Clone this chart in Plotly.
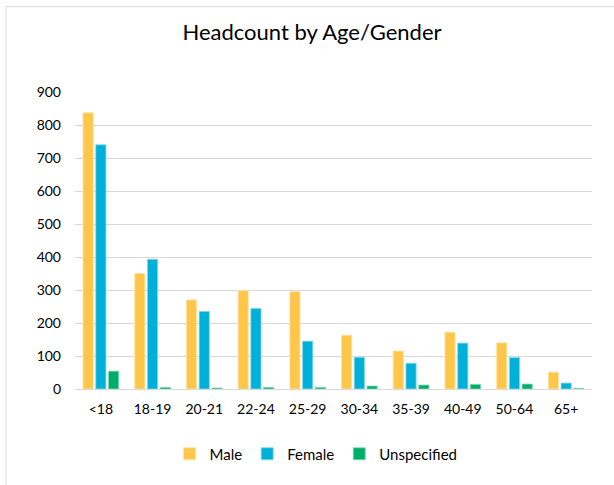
import plotly.graph_objects as go

# Headcount by age band, split by gender
age_bands = ["<18", "18-19", "20-21", "22-24", "25-29", "30-34", "35-39", "40-49", "50-64", "65+"]
male = [837, 350, 270, 298, 295, 163, 115, 172, 140, 51]
female = [740, 393, 235, 244, 145, 96, 78, 139, 95, 18]
unspecified = [54, 5, 3, 5, 5, 9, 12, 14, 15, 2]
y_ticks = [0, 100, 200, 300, 400, 500, 600, 700, 800, 900]

series = [
    ("Male", male, "#FFC749", "#FFE3A4"),
    ("Female", female, "#00B0D8", "#80D8EC"),
    ("Unspecified", unspecified, "#00AE6B", "#80D7B5"),
]

font_family = "Lato, 'Open Sans', sans-serif"

fig = go.Figure()
for name, values, color, edge in series:
    fig.add_trace(go.Bar(
        x=age_bands,
        y=values,
        name=name,
        marker=dict(color=color, line=dict(color=edge, width=0.8)),
    ))

fig.update_layout(
    width=614,
    height=485,
    paper_bgcolor="white",
    plot_bgcolor="white",
    margin=dict(l=75, r=22, t=92, b=96),
    barmode="group",
    bargap=0.26,
    bargroupgap=0.2,
    font=dict(family=font_family, size=14, color="#404040"),
    title=dict(
        text="Headcount by Age/Gender",
        x=312 / 614,
        xref="container",
        xanchor="center",
        y=1 - 32 / 485,
        yanchor="middle",
        font=dict(family=font_family, size=22, color="#000000"),
    ),
    xaxis=dict(
        showgrid=False,
        showline=True,
        linecolor="#D9D9D9",
        linewidth=1,
        ticks="",
        tickfont=dict(size=14, color="#000000"),
        ticklabelstandoff=7,
    ),
    yaxis=dict(
        range=[0, 900],
        tickvals=y_ticks,
        showgrid=True,
        gridcolor="#D9D9D9",
        gridwidth=1,
        zeroline=False,
        showline=False,
        ticks="",
        tickfont=dict(size=14, color="#000000"),
        ticklabelstandoff=13,
    ),
    showlegend=True,
    legend=dict(
        orientation="h",
        x=316 / 614,
        xanchor="center",
        xref="container",
        y=1 - 454 / 485,
        yref="container",
        yanchor="middle",
        font=dict(size=15, color="#000000"),
        itemwidth=30,
        traceorder="normal",
    ),
    shapes=[
        dict(
            type="rect",
            xref="paper", yref="paper",
            x0=-69 / 517, x1=1.2,
            y0=-2, y1=1 + 85 / 296,
            line=dict(color="#D9D9D9", width=1),
            fillcolor="rgba(0,0,0,0)",
            layer="below",
        )
    ],
)

fig.write_html("out.html")
